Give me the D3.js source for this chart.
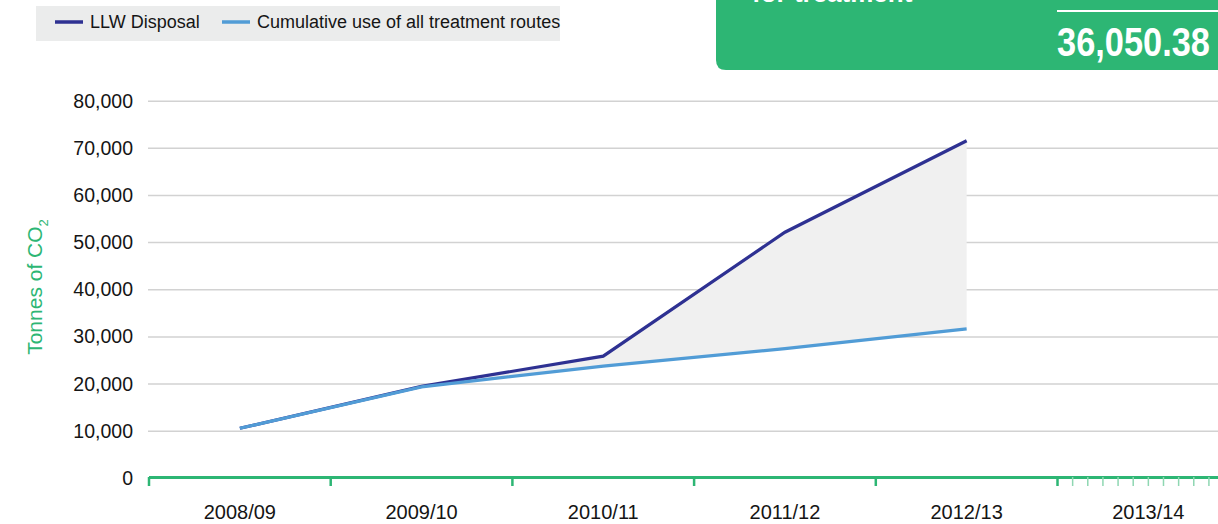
<title>LLW disposal vs treatment</title>
<body style="margin:0;background:#fff"></body>
<style>
  text { font-family: "Liberation Sans", Arial, sans-serif; }
  .grid line { stroke:#d2d2d2; stroke-width:1.5; }
  .grid path { display:none; }
</style>
<script src="https://d3js.org/d3.v7.min.js"></script>
<script>
// values
years = ['2008/09', '2009/10', '2010/11', '2011/12', '2012/13', '2013/14']
llw = [10500, 19400, 25800, 52100, 71500]
treatment = [10500, 19300, 23700, 27400, 31600]
yticks = [0, 10000, 20000, 30000, 40000, 50000, 60000, 70000, 80000]
months = d3.range(1, 12)

W = 1218, H = 524
green = '#2db674'

svg = d3.select('body').append('svg')
    .attr('width', W)
    .attr('height', H)

x = d3.scaleBand().domain(years).range([149, 149 + 6 * 181.7])
y = d3.scaleLinear().domain([0, 80000]).range([477.8, 100.7])

// grid
svg.append('g').attr('class', 'grid')
    .attr('transform', 'translate(148,0)')
    .call(d3.axisRight(y).tickValues(yticks.slice(1)).tickSize(W - 148).tickFormat(''))

// y labels
svg.append('g').selectAll('text').data(yticks).join('text')
    .attr('x', 133).attr('y', d => y(d)).attr('dy', '0.36em')
    .attr('text-anchor', 'end').attr('font-size', 19.5).attr('fill', '#151515')
    .text(d3.format(','))

// axis title
t = svg.append('text')
    .attr('transform', 'translate(42,287) rotate(-90)')
    .attr('text-anchor', 'middle').attr('font-size', 21).attr('fill', green)
t.append('tspan').text('Tonnes of CO')
t.append('tspan').text('2').attr('font-size', 13).attr('dy', 6)

pts = years.slice(0, 5).map((d, i) => ({ yr: d, a: llw[i], b: treatment[i] }))
cx = d => x(d.yr) + x.bandwidth() / 2

// gap between the two series
svg.append('path').datum(pts)
    .attr('fill', '#f0f0f0')
    .attr('d', d3.area().x(cx).y0(d => y(d.b)).y1(d => y(d.a)))

svg.append('path').datum(pts)
    .attr('fill', 'none').attr('stroke', '#2e3192').attr('stroke-width', 3.2)
    .attr('d', d3.line().x(cx).y(d => y(d.a)))
svg.append('path').datum(pts)
    .attr('fill', 'none').attr('stroke', '#519cd6').attr('stroke-width', 3.2)
    .attr('d', d3.line().x(cx).y(d => y(d.b)))

// x axis
ax = svg.append('g')
ax.append('line').attr('x1', 149).attr('x2', W).attr('y1', 477.5).attr('y2', 477.5)
    .attr('stroke', green).attr('stroke-width', 3)
ax.selectAll('.maj').data(years).join('line').attr('class', 'maj')
    .attr('x1', d => x(d)).attr('x2', d => x(d))
    .attr('y1', 477).attr('y2', 486)
    .attr('stroke', green).attr('stroke-width', 2.5)
last = years[5]
ax.selectAll('.min').data(months).join('line').attr('class', 'min')
    .attr('x1', m => x(last) + m * x.bandwidth() / 12).attr('x2', m => x(last) + m * x.bandwidth() / 12)
    .attr('y1', 477).attr('y2', 486)
    .attr('stroke', '#8fd7b2').attr('stroke-width', 1.5)
ax.selectAll('text').data(years).join('text')
    .attr('x', d => x(d) + x.bandwidth() / 2).attr('y', 519)
    .attr('text-anchor', 'middle').attr('font-size', 20).attr('fill', '#151515')
    .text(d => d)

// legend
lg = svg.append('g')
lg.append('rect').attr('x', 36).attr('y', 6).attr('width', 524).attr('height', 35).attr('fill', '#ebecec')
leg = [['LLW Disposal', '#2e3192', 55], ['Cumulative use of all treatment routes', '#519cd6', 222]]
leg.forEach(([name, c, lx]) => {
  lg.append('line').attr('x1', lx).attr('x2', lx + 28).attr('y1', 22).attr('y2', 22)
      .attr('stroke', c).attr('stroke-width', 3.5)
  lg.append('text').attr('x', lx + 35).attr('y', 28).attr('font-size', 18).attr('fill', '#151515').text(name)
})

// green info box in the corner
svg.append('path').attr('fill', green)
    .attr('d', 'M716,-10 H' + W + ' V70 H726 Q716,70 716,60 Z')
svg.append('text').attr('x', 752).attr('y', 2).attr('font-size', 26).attr('font-weight', 'bold')
    .attr('fill', '#fff').text('for treatment')
svg.append('line').attr('x1', 1057).attr('x2', W).attr('y1', 11).attr('y2', 11)
    .attr('stroke', '#fff').attr('stroke-width', 2)
svg.append('text').attr('transform', 'translate(1057,56) scale(0.86,1)')
    .attr('font-size', 40).attr('font-weight', 'bold')
    .attr('fill', '#fff')
    .text('36,050.38')
</script>
